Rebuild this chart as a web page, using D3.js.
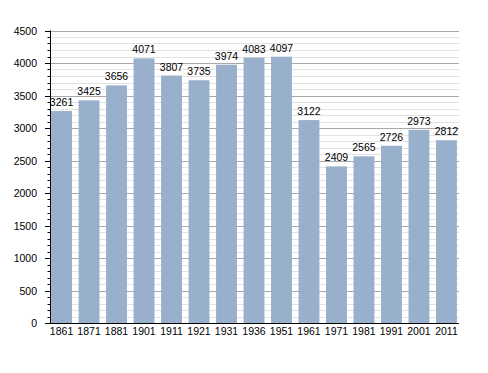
<!DOCTYPE html>
<html>
<head>
<meta charset="utf-8">
<script src="https://cdn.jsdelivr.net/npm/d3@7"></script>
<style>
  body { margin: 0; background: #fff; }
  text { font-family: "Liberation Sans", Arial, sans-serif; }
</style>
</head>
<body>
<svg width="488" height="373"></svg>
<script>
const years = ['1861','1871','1881','1901','1911','1921','1931','1936','1951','1961','1971','1981','1991','2001','2011']
const population = [3261,3425,3656,4071,3807,3735,3974,4083,4097,3122,2409,2565,2726,2973,2812]
const yMajor = [0,500,1000,1500,2000,2500,3000,3500,4000,4500]

const svg = d3.select('svg')
const plotLeft = 50, plotRight = 458, plotTop = 30.5, plotBottom = 323

const x = d3.scaleBand().domain(years).range([plotLeft,plotRight]).paddingInner(0.24).paddingOuter(0.04)
const y = d3.scaleLinear().domain([0,4500]).range([plotBottom,plotTop])
const py = d => Math.round(y(d)) + 0.5

// minor grid every 100
const minor = d3.range(0,4501,100).filter(v => v % 500 != 0)
svg.append('g').selectAll('line').data(minor).join('line')
  .attr('x1',plotLeft).attr('x2',plotRight+1)
  .attr('y1',py).attr('y2',py)
  .attr('stroke','#e2e2e2').attr('stroke-width',1)

svg.append('g').selectAll('line').data(yMajor.slice(1)).join('line')
  .attr('x1',plotLeft).attr('x2',plotRight+1)
  .attr('y1',py).attr('y2',py)
  .attr('stroke','#a8a8a8').attr('stroke-width',1)

// bars
svg.append('g').selectAll('rect').data(population).join('rect')
  .attr('x',(d,i) => x(years[i]))
  .attr('width',x.bandwidth())
  .attr('y',d => y(d))
  .attr('height',d => plotBottom - y(d))
  .attr('fill','#98b0cb')

svg.append('g').selectAll('text').data(population).join('text')
  .attr('x',(d,i) => x(years[i]) + x.bandwidth()/2)
  .attr('y',d => y(d) - 5)
  .attr('text-anchor','middle')
  .attr('font-size',10.5)
  .attr('fill','#000')
  .text(d => d)

// y axis with minor ticks
svg.append('g').selectAll('line').data(d3.range(0,4501,100)).join('line')
  .attr('x1',d => d % 500 == 0 ? plotLeft-5 : plotLeft-2.5).attr('x2',plotLeft)
  .attr('y1',py).attr('y2',py)
  .attr('stroke','#000')

svg.append('g').selectAll('text').data(yMajor).join('text')
  .attr('x',plotLeft-13)
  .attr('y',d => y(d) + 4)
  .attr('text-anchor','end')
  .attr('font-size',10.5)
  .text(d => d)

svg.append('line').attr('x1',plotLeft+0.5).attr('x2',plotLeft+0.5).attr('y1',plotTop).attr('y2',plotBottom)
  .attr('stroke','#000')
svg.append('line').attr('x1',plotLeft).attr('x2',plotRight+1).attr('y1',plotBottom+0.5).attr('y2',plotBottom+0.5)
  .attr('stroke','#000')

// x labels
svg.append('g').selectAll('text').data(years).join('text')
  .attr('x',d => x(d) + x.bandwidth()/2)
  .attr('y',plotBottom + 12)
  .attr('text-anchor','middle')
  .attr('font-size',10.5)
  .text(d => d)
</script>
</body>
</html>
